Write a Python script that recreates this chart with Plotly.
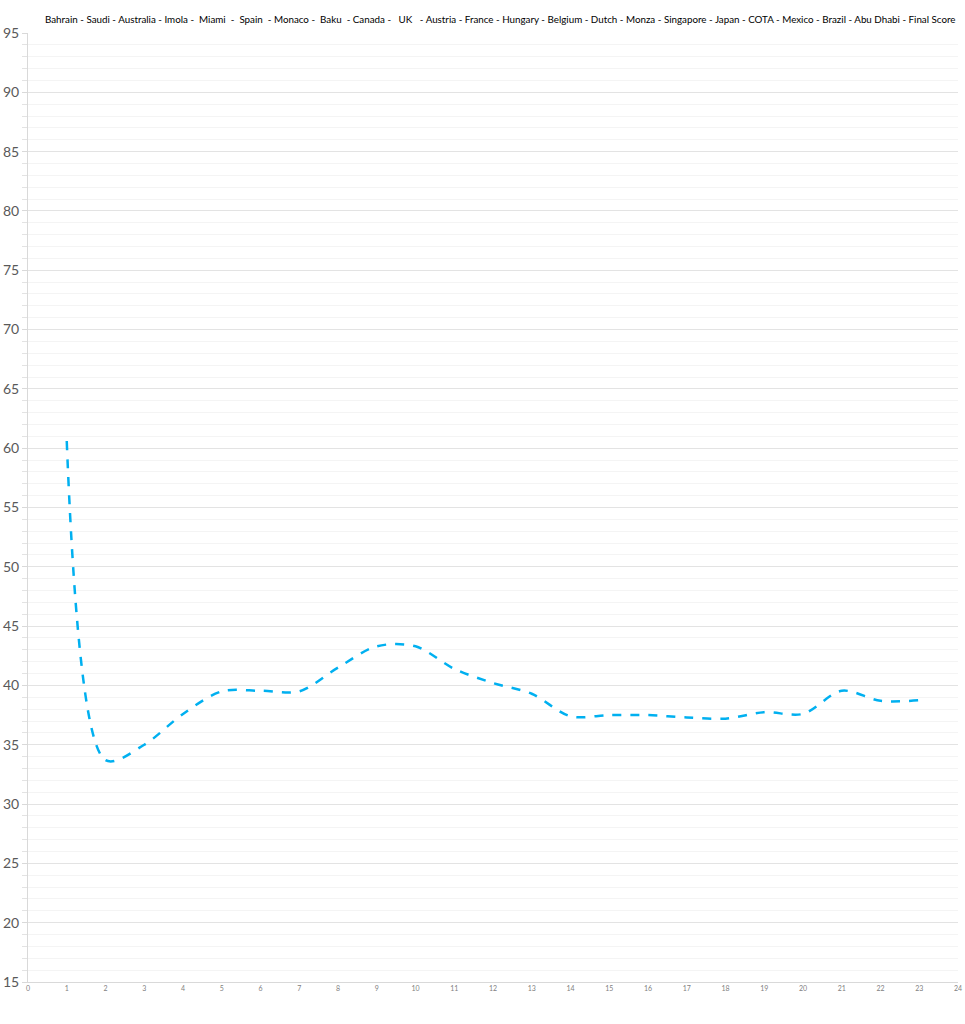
import plotly.graph_objects as go

races = list(range(1, 24))
scores = [60.6, 33.7, 35.0, 37.6, 39.5, 39.55, 39.5, 41.5, 43.3, 43.3, 41.4, 40.2,
          39.3, 37.4, 37.5, 37.5, 37.3, 37.2, 37.75, 37.6, 39.55, 38.7, 38.75]

title_text = ("Bahrain - Saudi - Australia - Imola -  Miami  -  Spain  - Monaco -  Baku  - Canada -   UK   - "
              "Austria - France - Hungary - Belgium - Dutch - Monza - Singapore - Japan - COTA - Mexico - "
              "Brazil - Abu Dhabi - Final Score")

FONT = "Lato, Liberation Sans, sans-serif"

fig = go.Figure()
fig.add_trace(go.Scatter(
    x=races, y=scores, mode="lines",
    line=dict(color="#00B0F0", width=2.5, dash="dash", shape="spline", smoothing=0.9),
    showlegend=False, hoverinfo="x+y",
))

fig.update_layout(
    width=965, height=1024,
    margin=dict(l=28, r=7, t=33, b=42),
    paper_bgcolor="white", plot_bgcolor="white",
    font=dict(family=FONT, color="#595959"),
)
fig.update_xaxes(
    range=[0, 24], dtick=1, tick0=0, showgrid=False, zeroline=False,
    showline=True, linecolor="#d9d9d9", linewidth=1, automargin=False,
    ticks="", tickfont=dict(size=7, color="#7f7f7f"),
)
fig.update_yaxes(
    range=[15, 95], dtick=5, tick0=15, zeroline=False, automargin=False,
    showgrid=True, gridcolor="#e3e3e3", gridwidth=1,
    showline=True, linecolor="#d9d9d9", linewidth=1,
    ticks="outside", ticklen=5, tickcolor="#d9d9d9",
    tickfont=dict(size=14, color="#595959"),
    minor=dict(dtick=1, showgrid=True, gridcolor="#f4f4f4", gridwidth=1,
               ticks="outside", ticklen=5, tickcolor="#e3e3e3"),
)
fig.add_annotation(
    text=title_text, xref="paper", yref="paper",
    x=(501 - 28) / 930, y=1 + (33 - 19) / 949,
    xanchor="center", yanchor="middle", showarrow=False,
    font=dict(size=9.8, color="#000000", family=FONT),
)

fig.write_html("out.html", config={"displayModeBar": False},
               post_script="document.body.style.margin='0';")
